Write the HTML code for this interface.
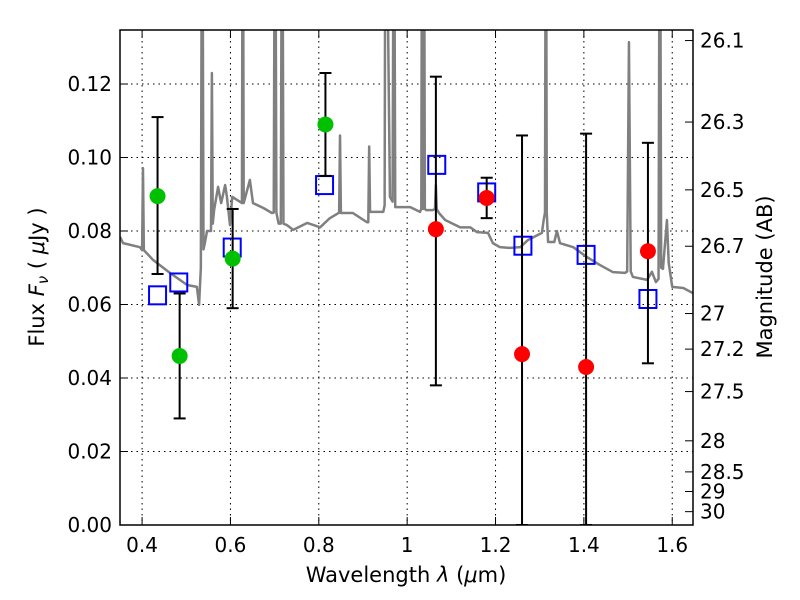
<!DOCTYPE html>
<html><head><meta charset="utf-8"><style>
body{margin:0;background:#fff}
svg{display:block;font-family:"DejaVu Sans","Liberation Sans",sans-serif}
</style></head><body>
<svg id="chart" width="800" height="600"></svg>
<script>
const specLam=[0.35,0.357,0.395,0.400,0.402,0.404,0.425,0.463,0.502,0.524,0.529,0.533,0.536,0.539,0.542,0.547,0.556,0.558,0.560,0.563,0.572,0.579,0.588,0.592,0.599,0.604,0.626,0.628,0.630,0.644,0.651,0.674,0.694,0.698,0.701,0.704,0.709,0.714,0.717,0.720,0.728,0.742,0.774,0.803,0.825,0.846,0.848,0.850,0.877,0.909,0.912,0.914,0.916,0.923,0.946,0.949,0.951,0.961,0.967,0.970,0.973,0.984,1.007,1.029,1.032,1.034,1.036,1.038,1.040,1.043,1.058,1.063,1.065,1.067,1.072,1.086,1.12,1.143,1.158,1.183,1.194,1.21,1.233,1.256,1.274,1.305,1.309,1.312,1.314,1.316,1.319,1.323,1.333,1.339,1.346,1.376,1.407,1.437,1.466,1.493,1.498,1.502,1.506,1.511,1.543,1.554,1.563,1.569,1.572,1.575,1.579,1.588,1.592,1.6,1.625,1.647];
const specFlux=[0.0784,0.0767,0.0756,0.0748,0.0971,0.0748,0.0721,0.0686,0.0653,0.0648,0.0599,0.07,0.2,0.075,0.0767,0.080,0.08,0.123,0.082,0.0857,0.092,0.0876,0.0925,0.0893,0.0816,0.0893,0.0876,0.2,0.0876,0.0939,0.0876,0.0863,0.0849,0.085,0.2,0.085,0.0820,0.082,0.2,0.082,0.0816,0.0803,0.0822,0.081,0.0835,0.085,0.106,0.0849,0.0849,0.0824,0.0824,0.103,0.0852,0.0852,0.0852,0.087,0.2,0.0893,0.088,0.2,0.0865,0.0865,0.0865,0.0852,0.086,0.2,0.086,0.2,0.086,0.0857,0.0857,0.086,0.0925,0.086,0.0849,0.083,0.081,0.081,0.0797,0.0795,0.0767,0.0756,0.0754,0.0756,0.0776,0.0795,0.083,0.085,0.2,0.085,0.077,0.077,0.077,0.080,0.0767,0.0756,0.0729,0.0707,0.0688,0.0686,0.069,0.1314,0.069,0.0675,0.0667,0.0689,0.0661,0.067,0.2,0.07,0.0697,0.083,0.0713,0.0648,0.0645,0.0631];
const greenLam=[0.435,0.485,0.605,0.815];
const greenFlux=[0.0895,0.046,0.0725,0.109];
const greenLo=[0.0683,0.029,0.059,0.095];
const greenHi=[0.111,0.063,0.086,0.123];
const redLam=[1.065,1.18,1.26,1.405,1.545];
const redFlux=[0.0805,0.089,0.0465,0.043,0.0745];
const redLo=[0.038,0.0835,0,0,0.044];
const redHi=[0.122,0.0945,0.106,0.1065,0.104];
const modelLam=[0.435,0.483,0.604,0.813,1.067,1.18,1.262,1.405,1.545];
const modelFlux=[0.0625,0.066,0.0755,0.0925,0.098,0.0905,0.076,0.0735,0.0615];
const xTicks=[0.4,0.6,0.8,1.0,1.2,1.4,1.6];
const xTickLabels=["0.4","0.6","0.8","1","1.2","1.4","1.6"];
const yTicks=[0,0.02,0.04,0.06,0.08,0.1,0.12];
const yTickLabels=["0.00","0.02","0.04","0.06","0.08","0.10","0.12"];
const magTicks=[26.1,26.3,26.5,26.7,27,27.2,27.5,28,28.5,29,30];

const L=120,R=693,T=30,B=525,X0=0.35,X1=1.647,Y0=0,Y1=0.1347;
const sx=v=>L+(v-X0)/(X1-X0)*(R-L);
const sy=v=>B-(v-Y0)/(Y1-Y0)*(B-T);
const NS="http://www.w3.org/2000/svg";
const svg=document.getElementById('chart');
function mk(tag,attrs,parent){const e=document.createElementNS(NS,tag);for(const k in attrs)e.setAttribute(k,attrs[k]);(parent||svg).appendChild(e);return e;}
const defs=mk('defs',{});
const cp=mk('clipPath',{id:'clip'},defs);mk('rect',{x:L,y:T,width:R-L,height:B-T},cp);

xTicks.forEach(v=>{const g=mk('line',{x1:sx(v),x2:sx(v),y1:T,y2:B,stroke:'#000','stroke-width':1,'stroke-dasharray':'1.5,4'});

});
yTicks.slice(1).forEach(v=>{const g=mk('line',{x1:L,x2:R,y1:sy(v),y2:sy(v),stroke:'#000','stroke-width':1,'stroke-dasharray':'1.5,4'});

});

const plot=mk('g',{'clip-path':'url(#clip)'});


const sp=mk('polyline',{points:specLam.map((l,i)=>sx(l)+','+sy(specFlux[i])).join(' '),fill:'none',stroke:'#808080','stroke-width':2.5,'stroke-linejoin':'round'},plot);



function errbar(l,lo,hi,name){const g=mk('g',{stroke:'#000','stroke-width':2},plot);


const x=sx(l);mk('line',{x1:x,x2:x,y1:sy(lo),y2:sy(hi)},g);
mk('line',{x1:x-6,x2:x+6,y1:sy(hi),y2:sy(hi)},g);mk('line',{x1:x-6,x2:x+6,y1:sy(lo),y2:sy(lo)},g);}
modelLam.forEach((l,i)=>{const r=mk('rect',{x:sx(l)-8.5,y:sy(modelFlux[i])-9,width:17,height:18,fill:'none',stroke:'#0000ff','stroke-width':2},plot);

});
greenLam.forEach((l,i)=>{errbar(l,greenLo[i],greenHi[i],'green-error-bar');
const c=mk('circle',{cx:sx(l),cy:sy(greenFlux[i]),r:8,fill:'#00c000'},plot);

});
redLam.forEach((l,i)=>{errbar(l,redLo[i],redHi[i],'red-error-bar');
const c=mk('circle',{cx:sx(l),cy:sy(redFlux[i]),r:8,fill:'#ff0000'},plot);

});

const fr=mk('rect',{x:L,y:T,width:R-L,height:B-T,fill:'none',stroke:'#000','stroke-width':1.5});



xTicks.forEach((v,i)=>{const x=sx(v);
mk('line',{x1:x,x2:x,y1:B,y2:B-8,stroke:'#000'});mk('line',{x1:x,x2:x,y1:T,y2:T+8,stroke:'#000'});
const t=mk('text',{x:x,y:B+27,'text-anchor':'middle','font-size':20});t.textContent=xTickLabels[i];

});
yTicks.forEach((v,i)=>{const y=sy(v);
mk('line',{x1:L,x2:L+8,y1:y,y2:y,stroke:'#000'});
const t=mk('text',{x:L-8,y:y+7,'text-anchor':'end','font-size':20});t.textContent=yTickLabels[i];

});
magTicks.forEach(m=>{const y=sy(Math.pow(10,(23.9-m)/2.5));
mk('line',{x1:R,x2:R-8,y1:y,y2:y,stroke:'#000'});
const t=mk('text',{x:R+7,y:y+7,'font-size':20});t.textContent=String(m);

});
</script>
<div style="position:absolute;left:0;top:0;width:800px;height:600px;pointer-events:none">
<svg width="800" height="600" style="position:absolute;left:0;top:0">
<text x="406" y="582" text-anchor="middle" font-size="21" font-family="DejaVu Sans, Liberation Sans, sans-serif">Wavelength  <tspan font-style="italic">λ</tspan> (<tspan font-style="italic">μ</tspan>m)</text>
<text transform="translate(44,277) rotate(-90)" text-anchor="middle" font-size="21" font-family="DejaVu Sans, Liberation Sans, sans-serif">Flux  <tspan font-style="italic">F</tspan><tspan font-style="italic" font-size="15" dy="4">ν</tspan><tspan dy="-4">  (  <tspan font-style="italic">μ</tspan>Jy )</tspan></text>
<text transform="translate(772,277) rotate(-90)" text-anchor="middle" font-size="21" font-family="DejaVu Sans, Liberation Sans, sans-serif">Magnitude (AB)</text>
</svg></div>
</body></html>
